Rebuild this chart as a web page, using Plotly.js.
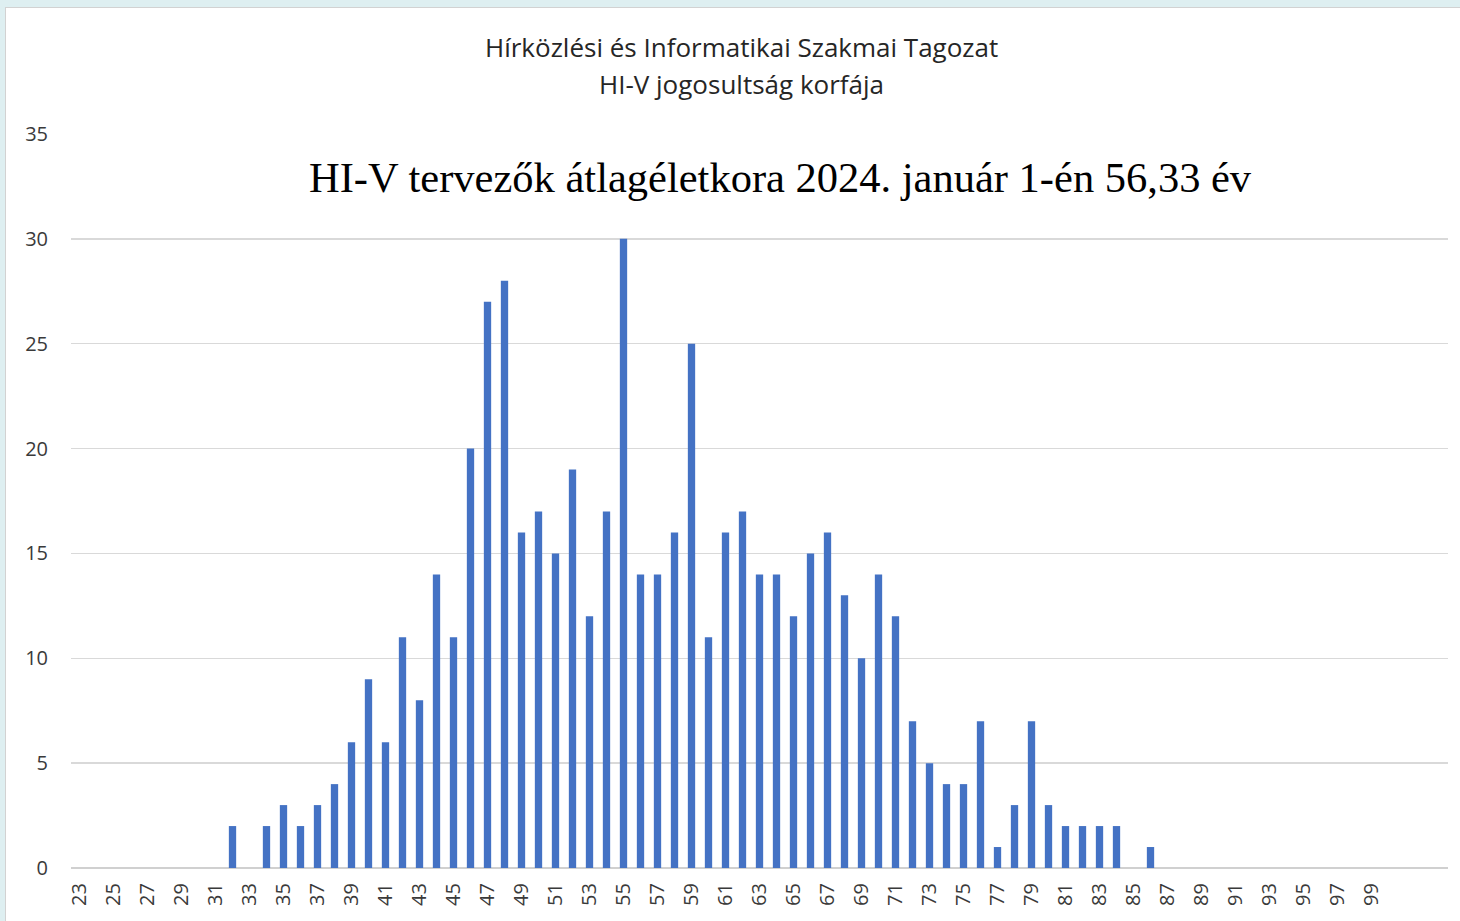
<!DOCTYPE html>
<html>
<head>
<meta charset="utf-8">
<script src="https://cdn.plot.ly/plotly-3.0.1.min.js"></script>
<style>
  html, body { margin: 0; padding: 0; width: 1460px; height: 921px; overflow: hidden; background: #deeff1; }
  #frame { position: absolute; left: 5px; top: 7px; width: 1455px; height: 914px; background: #ffffff; border-left: 1px solid #d2d2d2; border-top: 1px solid #d2d2d2; box-sizing: border-box; }
  #chart { position: absolute; left: 1px; top: 1px; width: 1454px; height: 913px; }
</style>
</head>
<body>
<div id="frame"><div id="chart"></div></div>
<script>
// Ages (categories) and number of HI-V designers per age
const ages = [];
for (let a = 23; a <= 99; a++) ages.push(a);
const counts = [
  // 23..31
  0, 0, 0, 0, 0, 0, 0, 0, 0,
  // 32..41
  2, 0, 2, 3, 2, 3, 4, 6, 9, 6,
  // 42..51
  11, 8, 14, 11, 20, 27, 28, 16, 17, 15,
  // 52..61
  19, 12, 17, 30, 14, 14, 16, 25, 11, 16,
  // 62..71
  17, 14, 14, 12, 15, 16, 13, 10, 14, 12,
  // 72..81
  7, 5, 4, 4, 7, 1, 3, 7, 3, 2,
  // 82..91
  2, 2, 2, 0, 1, 0, 0, 0, 0, 0,
  // 92..99
  0, 0, 0, 0, 0, 0, 0, 0
];
const tickAges = ages.filter(a => a % 2 === 1);
const tickLabels = tickAges.map(String);
const yTicks = [0, 5, 10, 15, 20, 25, 30, 35];

const titleLine1 = 'Hírközlési és Informatikai Szakmai Tagozat';
const titleLine2 = 'HI-V jogosultság korfája';
const noteText = 'HI-V tervezők átlagéletkora 2024. január 1-én 56,33 év';

const trace = {
  type: 'bar',
  x: ages,
  y: counts,
  marker: { color: '#4472c4', line: { width: 0 } },
  hoverinfo: 'x+y'
};

const titleFont = { family: 'Open Sans, sans-serif', size: 26, color: '#262626' };

const layout = {
  width: 1454,
  height: 913,
  paper_bgcolor: '#ffffff',
  plot_bgcolor: '#ffffff',
  margin: { l: 64, r: 13, t: 125, b: 54 },
  showlegend: false,
  bargap: 0.57,
  xaxis: {
    type: 'linear',
    range: [22.5, 103.5],
    tickmode: 'array',
    tickvals: tickAges,
    ticktext: tickLabels,
    tickangle: -90,
    tickfont: { family: 'Open Sans, sans-serif', size: 20, color: '#3a3a3a' },
    showgrid: false,
    zeroline: false,
    showline: false,
    ticks: '',
    ticklabelstandoff: 10,
    fixedrange: true
  },
  yaxis: {
    range: [0, 35],
    tickmode: 'array',
    tickvals: yTicks,
    tickfont: { family: 'Open Sans, sans-serif', size: 20, color: '#3a3a3a' },
    showgrid: true,
    gridcolor: '#d9d9d9',
    gridwidth: 1.5,
    zeroline: true,
    zerolinecolor: '#d0d0d0',
    zerolinewidth: 2,
    showline: false,
    ticks: '',
    ticklabelstandoff: 22,
    fixedrange: true
  },
  annotations: [
    {
      text: titleLine1,
      xref: 'paper', yref: 'paper',
      x: 0.4867, y: 1 + (125 - 38) / 734,
      xanchor: 'center', yanchor: 'middle',
      showarrow: false,
      font: titleFont
    },
    {
      text: titleLine2,
      xref: 'paper', yref: 'paper',
      x: 0.4867, y: 1 + (125 - 75) / 734,
      xanchor: 'center', yanchor: 'middle',
      showarrow: false,
      font: titleFont
    },
    {
      text: noteText,
      xref: 'paper',
      yref: 'paper',
      x: 0.5152,
      y: 0.9405,
      xanchor: 'center',
      yanchor: 'middle',
      showarrow: false,
      font: { family: 'Liberation Serif, Times New Roman, serif', size: 42.5, color: '#000000' }
    }
  ]
};

Plotly.newPlot('chart', [trace], layout, { displayModeBar: false, staticPlot: true });
</script>
</body>
</html>
